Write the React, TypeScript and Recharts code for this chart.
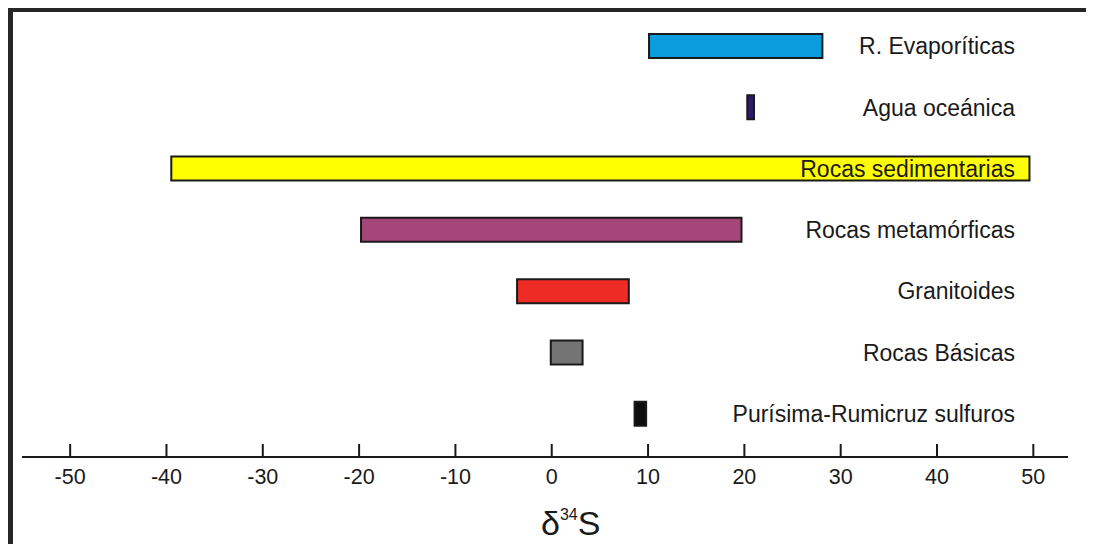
import React from "react";
import { BarChart, Bar, XAxis, YAxis, Cell, LabelList } from "recharts";

// rock / fluid types, top to bottom
const categories = [
  "R. Evaporíticas",
  "Agua oceánica",
  "Rocas sedimentarias",
  "Rocas metamórficas",
  "Granitoides",
  "Rocas Básicas",
  "Purísima-Rumicruz sulfuros",
];

// δ34S ranges (‰)
const rangeMin = [10.1, 20.3, -39.5, -19.8, -3.6, -0.1, 8.6];
const rangeMax = [28.1, 21.0, 49.6, 19.7, 8.0, 3.2, 9.8];

const xTicks = [-50, -40, -30, -20, -10, 0, 10, 20, 30, 40, 50];

const fills = ["#0a9cdc", "#2e1b6c", "#ffff00", "#a5467a", "#ee2b24", "#747474", "#0d0d0d"];

const FONT = '"Liberation Sans", Arial, sans-serif';
const INK = "#1a1a1a";
const W = 1081;
const H = 532;
const LABEL_END = 1002;

const data = categories.map((name, i) => ({
  name,
  range: [rangeMin[i], rangeMax[i]],
}));

const BottomTick = (props: any) => {
  const { x, y, payload } = props;
  return (
    <g>
      <line x1={x} x2={x} y1={y - 13} y2={y} stroke={INK} strokeWidth={2} />
      <text x={x} y={y + 27} textAnchor="middle" fontFamily={FONT} fontSize={21.5} fill={INK}>
        {payload.value}
      </text>
    </g>
  );
};

const RowLabel = (props: any) => {
  const { y, height, value } = props;
  return (
    <text
      x={LABEL_END}
      y={y + height / 2}
      dy="0.36em"
      textAnchor="end"
      fontFamily={FONT}
      fontSize={23}
      fill={INK}
    >
      {value}
    </text>
  );
};

const DeltaLabel = () => (
  <text x={528} y={523} fontFamily={FONT} fontSize={34} fill={INK}>
    <tspan>δ</tspan>
    <tspan fontSize={16} dy={-15}>34</tspan>
    <tspan dy={15}>S</tspan>
  </text>
);

export default function App() {
  return (
    <div
      style={{
        width: 1086,
        height: 537,
        boxSizing: "border-box",
        borderTop: "5px solid #262626",
        borderLeft: "5px solid #262626",
        marginTop: -1,
        background: "#fff",
      }}
    >
      <BarChart
        width={W}
        height={H}
        data={data}
        layout="vertical"
        margin={{ top: 3, right: 26, bottom: 0, left: 9 }}
        barSize={24}
      >
        <XAxis
          type="number"
          domain={[-55, 53.6]}
          ticks={xTicks}
          interval={0}
          allowDataOverflow
          tickLine={false}
          tickSize={0}
          tickMargin={0}
          height={87}
          axisLine={{ stroke: INK, strokeWidth: 2 }}
          tick={<BottomTick />}
          label={<DeltaLabel />}
        />
        <YAxis
          type="category"
          dataKey="name"
          hide
          padding={{ top: 0, bottom: 13 }}
        />
        <Bar dataKey="range" stroke={INK} strokeWidth={2} isAnimationActive={false}>
          {data.map((d, i) => (
            <Cell key={d.name} fill={fills[i]} />
          ))}
          <LabelList dataKey="name" content={<RowLabel />} />
        </Bar>
      </BarChart>
    </div>
  );
}
